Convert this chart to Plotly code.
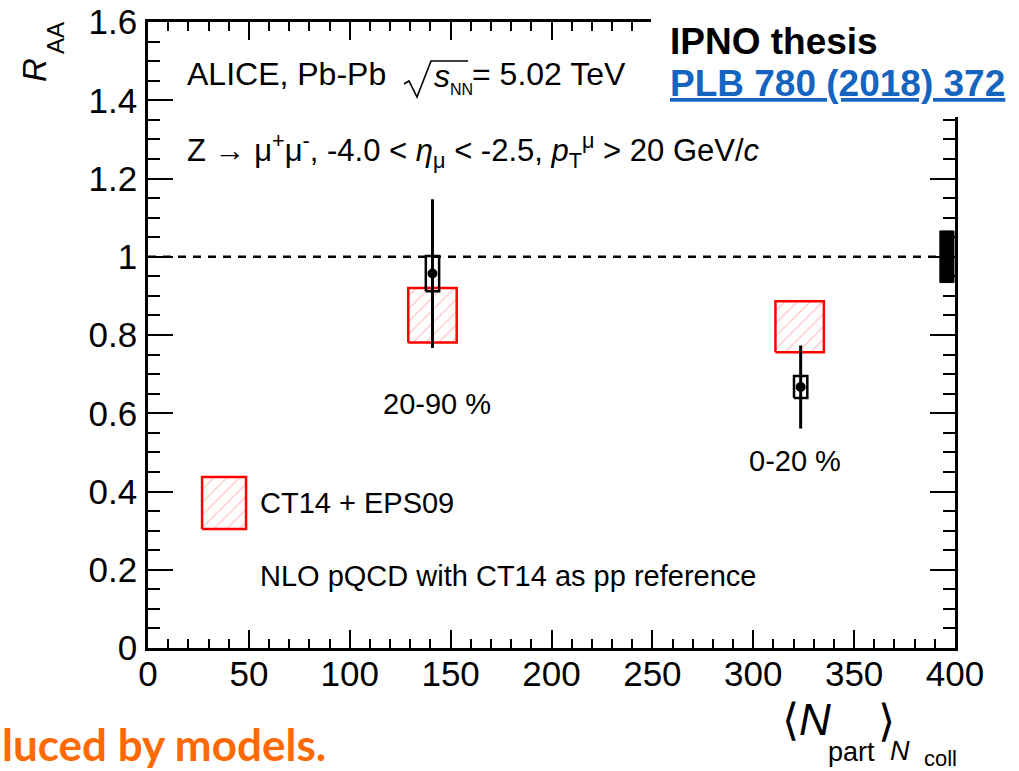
import plotly.graph_objects as go

# ---------------- data ----------------
centrality = ["20-90 %", "0-20 %"]
npart = [141.0, 323.5]
raa = [0.957, 0.667]
stat_err = [0.19, 0.106]
syst_err = [0.045, 0.028]

model_npart = [141.0, 323.0]
model_lo = [0.781, 0.756]
model_hi = [0.920, 0.886]

global_unc = 0.066
ref_line = 1.0

x_ticks = [0, 50, 100, 150, 200, 250, 300, 350, 400]
y_ticks = [0, 0.2, 0.4, 0.6, 0.8, 1.0, 1.2, 1.4, 1.6]
y_ticklabels = ["0", "0.2", "0.4", "0.6", "0.8", "1", "1.2", "1.4", "1.6"]

# ---------------- geometry helpers ----------------
W, H = 1019, 771
L, R, T, B = 148, 955, 22, 648  # plot area pixels


def px(xp):
    return (xp - L) / (R - L)


def py(yp):
    return (B - yp) / (B - T)


def rect(xc, hw, lo, hi):
    return [xc - hw, xc + hw, xc + hw, xc - hw, xc - hw], [lo, lo, hi, hi, lo]


FONT = "Liberation Sans, Arial, sans-serif"
RED = "#ff0000"
HATCH = dict(shape="/", fgcolor="rgba(255,70,70,0.6)", bgcolor="rgba(255,255,255,0)",
             size=9, solidity=0.15)

fig = go.Figure()

# model boxes (hatched red)
for xc, lo, hi in zip(model_npart, model_lo, model_hi):
    xs, ys = rect(xc, 12.0, lo, hi)
    fig.add_trace(go.Scatter(x=xs, y=ys, mode="lines", fill="toself",
                             fillcolor="rgba(255,255,255,0)", fillpattern=HATCH,
                             line=dict(color=RED, width=2.5), hoverinfo="skip", showlegend=False))

# legend swatch
xs, ys = rect(37.7, 10.9, 0.304, 0.437)
fig.add_trace(go.Scatter(x=xs, y=ys, mode="lines", fill="toself",
                         fillcolor="rgba(255,255,255,0)", fillpattern=HATCH,
                         line=dict(color=RED, width=2.5), hoverinfo="skip", showlegend=False))

# reference line at unity
fig.add_trace(go.Scatter(x=[0, 392.5], y=[ref_line, ref_line], mode="lines",
                         line=dict(color="black", width=2.5, dash="8px,7px"),
                         hoverinfo="skip", showlegend=False))

# global uncertainty box
xs, ys = rect(396.0, 3.5, ref_line - global_unc, ref_line + global_unc)
fig.add_trace(go.Scatter(x=xs, y=ys, mode="lines", fill="toself", fillcolor="black",
                         line=dict(color="black", width=1), hoverinfo="skip", showlegend=False))

# data: stat errors + markers
fig.add_trace(go.Scatter(x=npart, y=raa, mode="markers",
                         marker=dict(color="black", size=10, symbol="circle"),
                         error_y=dict(type="data", array=stat_err, color="black",
                                      thickness=3, width=0),
                         showlegend=False))

# syst boxes
for xc, yc, s in zip(npart, raa, syst_err):
    xs, ys = rect(xc, 3.3, yc - s, yc + s)
    fig.add_trace(go.Scatter(x=xs, y=ys, mode="lines",
                             line=dict(color="black", width=2.5), hoverinfo="skip",
                             showlegend=False))

# dummy trace for the mirrored (top/right) tick axes
fig.add_trace(go.Scatter(x=[None], y=[None], xaxis="x2", yaxis="y2", showlegend=False,
                         hoverinfo="skip"))

tick_common = dict(ticks="inside", tickcolor="black", tickwidth=2, showgrid=False,
                   zeroline=False, automargin=False)
xminor = dict(ticks="inside", dtick=10, tick0=0, ticklen=9, tickwidth=2, tickcolor="black")
yminor = dict(ticks="inside", dtick=0.05, tick0=0, ticklen=12, tickwidth=2, tickcolor="black")

fig.update_layout(
    xaxis=dict(range=[0, 400], tickvals=x_ticks, ticklen=18, minor=xminor,
               showline=True, linecolor="black", linewidth=2.5, mirror=True,
               tickfont=dict(family=FONT, size=35, color="black"),
               ticklabelstandoff=-7, **tick_common),
    yaxis=dict(range=[0, 1.6], tickvals=y_ticks, ticktext=y_ticklabels, ticklen=25,
               minor=yminor, showline=True, linecolor="black", linewidth=2.5, mirror=True,
               tickfont=dict(family=FONT, size=35, color="black"),
               ticklabelstandoff=1, **tick_common),
    xaxis2=dict(range=[0, 400], tickvals=x_ticks, ticklen=18, minor=xminor,
                overlaying="x", side="top", showticklabels=False, showline=False,
                **tick_common),
    yaxis2=dict(range=[0, 1.6], tickvals=y_ticks, ticklen=25, minor=yminor,
                overlaying="y", side="right", showticklabels=False, showline=False,
                **tick_common),
)

ann = []


def txt(text, x, y, size=29, xanchor="left", yanchor="middle", color="black",
        family=FONT, angle=0):
    ann.append(dict(text=text, x=px(x), y=py(y), xref="paper", yref="paper",
                    showarrow=False, xanchor=xanchor, yanchor=yanchor,
                    font=dict(family=family, size=size, color=color), textangle=angle))


# in-plot texts (pixel positions)
txt("ALICE, Pb-Pb", 185, 74, size=32)
txt("<i>s</i>", 432, 76, size=32)
txt("NN", 448, 90, size=16)
txt("= 5.02 TeV", 470, 74, size=32)
txt("Z → μ<sup>+</sup>μ<sup>-</sup>, -4.0 &lt; <i>η</i><sub>μ</sub> &lt; -2.5, "
    "<i>p</i><sub>T</sub><sup>μ</sup> &gt; 20 GeV/<i>c</i>", 185, 150, size=31)
txt(centrality[0], 437, 404, xanchor="center")
txt(centrality[1], 795, 461, xanchor="center")
txt("CT14 + EPS09", 258, 503)
txt("NLO pQCD with CT14 as pp reference", 258, 576)

# axis titles
txt("<i>R</i>", 34, 70, size=33, xanchor="center", angle=-90)
txt("AA", 55, 38, size=24, xanchor="center", angle=-90)
txt("⟨<i>N</i>", 780, 719, size=44)
txt("part", 851, 752, size=27, xanchor="center")
txt("⟩", 876, 721, size=44)
txt("<i>N</i>", 900, 751, size=27, xanchor="center")
txt("coll", 940, 758, size=22, xanchor="center")

# slide overlay texts
txt("<b>IPNO thesis</b>", 668, 42, size=37)
txt("<b><u>PLB 780 (2018) 372</u></b>", 668, 83, size=37, color="#1565c0")
txt("<b>luced by models.</b>", 0, 744, size=44, color="#ff6a00",
    family="Lato, Open Sans, sans-serif")

# radical sign path (pixel -> paper)
rad_pts = [(404, 84), (409, 81), (417, 97), (431, 61), (468, 61)]
rad_path = "M " + " L ".join(f"{px(a):.5f},{py(b):.5f}" for a, b in rad_pts)

fig.update_layout(
    width=W, height=H,
    margin=dict(l=L, r=W - R, t=T, b=H - B, autoexpand=False),
    paper_bgcolor="white", plot_bgcolor="white",
    annotations=ann,
    shapes=[
        dict(type="path", xref="paper", yref="paper", path=rad_path,
             line=dict(color="black", width=1.6)),
        # white overlay box (slide text box) at top right
        dict(type="rect", xref="paper", yref="paper", x0=px(651), x1=px(1030),
             y0=py(117), y1=py(-10), fillcolor="white", line=dict(width=0),
             layer="above"),
    ],
)

fig.write_html("out.html")
